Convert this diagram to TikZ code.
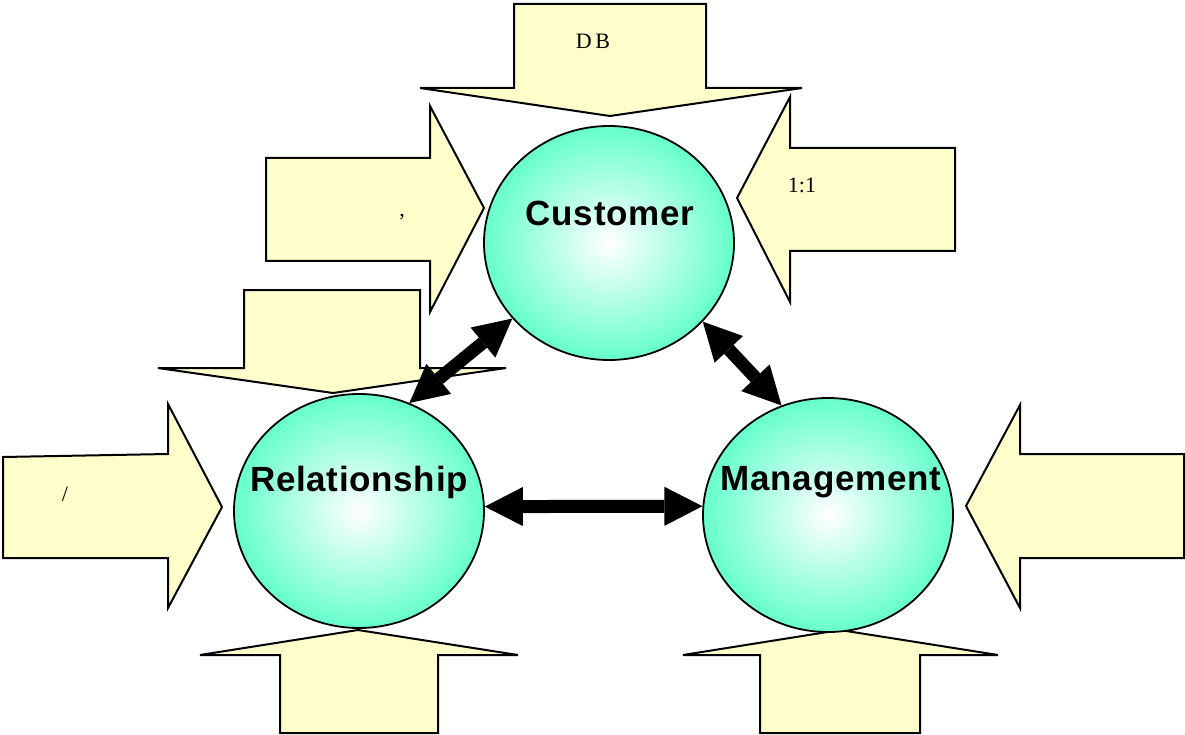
\documentclass[tikz,border=0pt]{standalone}
\usepackage{fontspec}
\setmainfont{Liberation Serif}
\setsansfont{Liberation Sans}
\usetikzlibrary{shapes.geometric,arrows.meta}

\definecolor{pad}{RGB}{255,255,204}
\definecolor{aqua}{RGB}{102,255,204}

\tikzset{
  blockarrow/.style={draw=black, fill=pad, line width=2pt, line join=miter},
  ball/.style={ellipse, draw=black, line width=1.8pt, inner color=white, outer color=aqua,
    minimum width=250pt, minimum height=234pt, inner sep=0pt},
  balltext/.style={font=\sffamily\bfseries\fontsize{35}{40}\selectfont\addfontfeatures{LetterSpace=2}},
  padtext/.style={font=\fontsize{22}{26}\selectfont, anchor=base},
  link/.style={line width=13pt,
    {Triangle[length=38pt,width=39pt,line width=0pt]}-{Triangle[length=38pt,width=39pt,line width=0pt]}}
}

\begin{document}
\begin{tikzpicture}[x=1pt,y=-1pt]
\useasboundingbox (0,0) rectangle (1185,735);
% Block arrows
\draw[blockarrow] (514,4) -- (706,4) -- (706,88) -- (802,88) -- (610,116) -- (420,88) -- (514,88) -- cycle;
\draw[blockarrow] (955,148) -- (790,148) -- (790,97) -- (737,198) -- (790,302) -- (790,251) -- (955,251) -- cycle;
\draw[blockarrow] (266,158) -- (430,158) -- (430,106) -- (484,208) -- (430,312) -- (430,261) -- (266,261) -- cycle;
\draw[blockarrow] (244,290) -- (420,290) -- (420,368) -- (506,368) -- (333,393) -- (158,368) -- (244,368) -- cycle;
\draw[blockarrow] (3,457) -- (168,454) -- (168,404) -- (222,507) -- (168,608) -- (168,558) -- (3,558) -- cycle;
\draw[blockarrow] (1184,454) -- (1020,454) -- (1020,405) -- (966,506) -- (1020,608) -- (1020,558) -- (1184,558) -- cycle;
\draw[blockarrow] (280,733) -- (280,655) -- (200,655) -- (358,630) -- (518,655) -- (438,655) -- (438,733) -- cycle;
\draw[blockarrow] (760,733) -- (760,655) -- (683,655) -- (840,630) -- (998,655) -- (920,655) -- (920,733) -- cycle;
% Pad texts
\node[padtext] (dblbl) at (593,49) {D\,B};
\node[padtext] (ratiolbl) at (802,193) {1:1};
\node[padtext] (commalbl) at (402,217) {,};
\node[padtext] (slashlbl) at (65,501) {/};
% Balls
\node[ball] (cust) at (609,243) {};
\node[ball] (rel) at (359,511) {};
\node[ball] (man) at (828,515) {};
\node[balltext] (custlbl) at (610,213) {Customer};
\node[balltext] (rellbl) at (359,482) {Relationship};
\node[balltext] (manlbl) at (831,482) {Management};
% Links
\draw[link] (cust.218) -- (rel.65);
\draw[link] (cust.320) -- (man.113);
\draw[link] (rel.2) -- (man.176);
\end{tikzpicture}
\end{document}
